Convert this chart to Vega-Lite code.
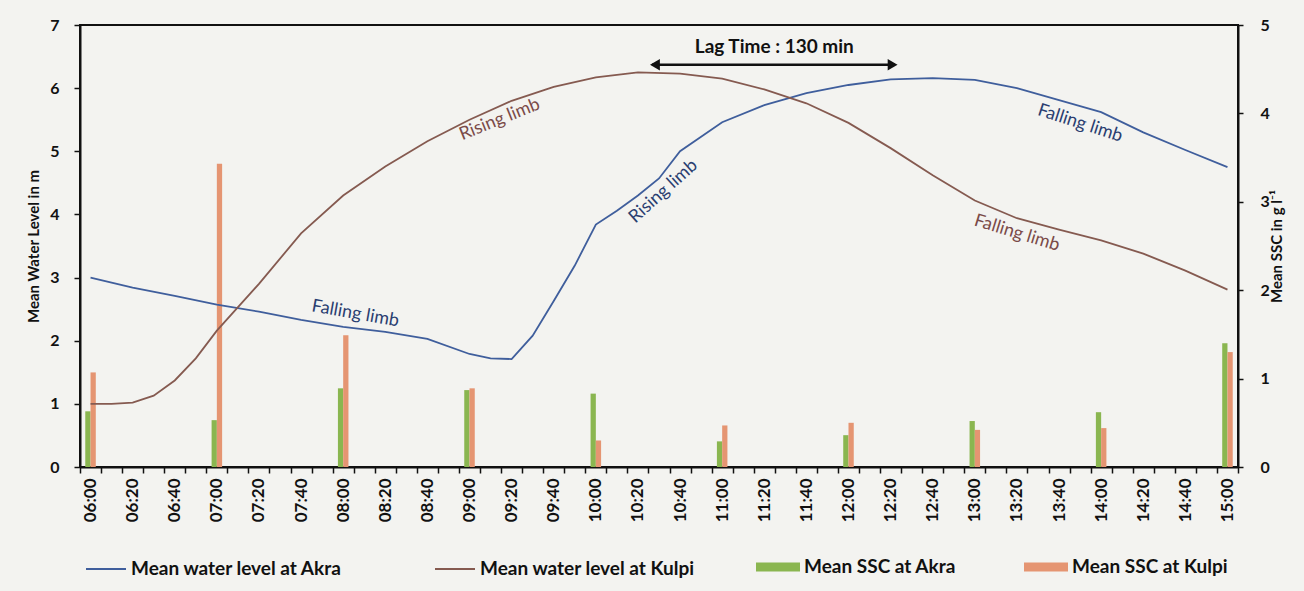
{
  "$schema": "https://vega.github.io/schema/vega-lite/v6.json",
  "width": 1158,
  "height": 442,
  "autosize": {"type": "none"},
  "padding": {"left": 80, "top": 25, "right": 66, "bottom": 124},
  "background": "#f3f3f0",
  "config": {
    "font": "Lato",
    "view": {"stroke": "#111111", "strokeWidth": 2},
    "axis": {
      "labelFont": "Lato", "labelFontWeight": "bold", "labelColor": "#111111",
      "titleFont": "Lato", "titleFontWeight": "bold", "titleColor": "#111111",
      "domainColor": "#111111", "domainWidth": 2, "tickColor": "#111111", "tickWidth": 1.5,
      "grid": false
    },
    "legend": {"labelFont": "Lato", "labelFontWeight": "bold", "labelColor": "#111111", "labelLimit": 400}
  },
  "layer": [
    {
      "data": {"values": [
        {"time": "06:00", "series": "Mean SSC at Akra", "ssc": 0.63},
        {"time": "06:00", "series": "Mean SSC at Kulpi", "ssc": 1.07},
        {"time": "07:00", "series": "Mean SSC at Akra", "ssc": 0.53},
        {"time": "07:00", "series": "Mean SSC at Kulpi", "ssc": 3.43},
        {"time": "08:00", "series": "Mean SSC at Akra", "ssc": 0.89},
        {"time": "08:00", "series": "Mean SSC at Kulpi", "ssc": 1.49},
        {"time": "09:00", "series": "Mean SSC at Akra", "ssc": 0.87},
        {"time": "09:00", "series": "Mean SSC at Kulpi", "ssc": 0.89},
        {"time": "10:00", "series": "Mean SSC at Akra", "ssc": 0.83},
        {"time": "10:00", "series": "Mean SSC at Kulpi", "ssc": 0.30},
        {"time": "11:00", "series": "Mean SSC at Akra", "ssc": 0.29},
        {"time": "11:00", "series": "Mean SSC at Kulpi", "ssc": 0.47},
        {"time": "12:00", "series": "Mean SSC at Akra", "ssc": 0.36},
        {"time": "12:00", "series": "Mean SSC at Kulpi", "ssc": 0.50},
        {"time": "13:00", "series": "Mean SSC at Akra", "ssc": 0.52},
        {"time": "13:00", "series": "Mean SSC at Kulpi", "ssc": 0.42},
        {"time": "14:00", "series": "Mean SSC at Akra", "ssc": 0.62},
        {"time": "14:00", "series": "Mean SSC at Kulpi", "ssc": 0.44},
        {"time": "15:00", "series": "Mean SSC at Akra", "ssc": 1.40},
        {"time": "15:00", "series": "Mean SSC at Kulpi", "ssc": 1.30}
      ]},
      "mark": {"type": "bar"},
      "encoding": {
        "x": {
          "field": "time", "type": "ordinal", "sort": null,
          "scale": {"type": "band", "paddingInner": 0, "paddingOuter": 0,
            "domain": ["06:00","06:10","06:20","06:30","06:40","06:50","07:00","07:10","07:20","07:30","07:40","07:50","08:00","08:10","08:20","08:30","08:40","08:50","09:00","09:10","09:20","09:30","09:40","09:50","10:00","10:10","10:20","10:30","10:40","10:50","11:00","11:10","11:20","11:30","11:40","11:50","12:00","12:10","12:20","12:30","12:40","12:50","13:00","13:10","13:20","13:30","13:40","13:50","14:00","14:10","14:20","14:30","14:40","14:50","15:00"]},
          "axis": {
            "title": null, "tickBand": "extent", "labelAngle": -90, "labelAlign": "right", "labelBaseline": "middle",
            "labelFontSize": 17, "labelPadding": 5, "tickSize": 6, "labelOverlap": false,
            "labelExpr": "indexof('135', slice(datum.label, 3, 4)) >= 0 ? '' : datum.label"
          }
        },
        "xOffset": {"field": "series", "type": "nominal", "scale": {"paddingInner": 0, "paddingOuter": 1.7}},
        "y": {
          "field": "ssc", "type": "quantitative",
          "scale": {"domain": [0, 5], "nice": false},
          "axis": {"orient": "right", "title": "Mean SSC in g l⁻¹", "values": [0,1,2,3,4,5],
            "labelFontSize": 16, "titleFontSize": 15, "tickSize": 5, "labelPadding": 17,
            "titleAngle": 270, "titleBaseline": "top", "titlePadding": 0}
        },
        "fill": {
          "field": "series", "type": "nominal",
          "scale": {"domain": ["Mean SSC at Akra", "Mean SSC at Kulpi"], "range": ["#8ab650", "#e59572"]},
          "legend": {"title": null, "orient": "none", "direction": "horizontal", "legendX": 676, "legendY": 520,
            "symbolType": "M-1,-0.2H1V0.2H-1Z", "symbolSize": 1936, "symbolStrokeWidth": 0,
            "labelFontSize": 19, "labelOffset": 4, "columnPadding": 68}
        }
      }
    },
    {
      "encoding": {
        "x": {"field": "time", "type": "ordinal", "sort": null, "scale": {"type": "band", "paddingInner": 0, "paddingOuter": 0}},
        "y": {
          "field": "level", "type": "quantitative",
          "scale": {"domain": [0, 7], "nice": false},
          "axis": {"orient": "left", "title": "Mean Water Level in m", "values": [0,1,2,3,4,5,6,7],
            "labelFontSize": 16, "titleFontSize": 15, "tickSize": 6, "labelPadding": 15, "titlePadding": 8}
        }
      },
      "layer": [
        {
          "data": {"values": [
            {"time": "06:00", "series": "Mean water level at Akra", "level": 3.00},
            {"time": "06:20", "series": "Mean water level at Akra", "level": 2.84},
            {"time": "06:40", "series": "Mean water level at Akra", "level": 2.71},
            {"time": "07:00", "series": "Mean water level at Akra", "level": 2.57},
            {"time": "07:20", "series": "Mean water level at Akra", "level": 2.46},
            {"time": "07:40", "series": "Mean water level at Akra", "level": 2.33},
            {"time": "08:00", "series": "Mean water level at Akra", "level": 2.22},
            {"time": "08:20", "series": "Mean water level at Akra", "level": 2.14},
            {"time": "08:40", "series": "Mean water level at Akra", "level": 2.03},
            {"time": "09:00", "series": "Mean water level at Akra", "level": 1.79},
            {"time": "09:10", "series": "Mean water level at Akra", "level": 1.72},
            {"time": "09:20", "series": "Mean water level at Akra", "level": 1.71},
            {"time": "09:30", "series": "Mean water level at Akra", "level": 2.08},
            {"time": "09:40", "series": "Mean water level at Akra", "level": 2.63},
            {"time": "09:50", "series": "Mean water level at Akra", "level": 3.19},
            {"time": "10:00", "series": "Mean water level at Akra", "level": 3.84},
            {"time": "10:10", "series": "Mean water level at Akra", "level": 4.06},
            {"time": "10:20", "series": "Mean water level at Akra", "level": 4.30},
            {"time": "10:30", "series": "Mean water level at Akra", "level": 4.57},
            {"time": "10:40", "series": "Mean water level at Akra", "level": 5.00},
            {"time": "11:00", "series": "Mean water level at Akra", "level": 5.46},
            {"time": "11:20", "series": "Mean water level at Akra", "level": 5.73},
            {"time": "11:40", "series": "Mean water level at Akra", "level": 5.92},
            {"time": "12:00", "series": "Mean water level at Akra", "level": 6.05},
            {"time": "12:20", "series": "Mean water level at Akra", "level": 6.14},
            {"time": "12:40", "series": "Mean water level at Akra", "level": 6.16},
            {"time": "13:00", "series": "Mean water level at Akra", "level": 6.13},
            {"time": "13:20", "series": "Mean water level at Akra", "level": 6.00},
            {"time": "13:40", "series": "Mean water level at Akra", "level": 5.81},
            {"time": "14:00", "series": "Mean water level at Akra", "level": 5.62},
            {"time": "14:20", "series": "Mean water level at Akra", "level": 5.30},
            {"time": "14:40", "series": "Mean water level at Akra", "level": 5.02},
            {"time": "15:00", "series": "Mean water level at Akra", "level": 4.75},
            {"time": "06:00", "series": "Mean water level at Kulpi", "level": 1.00},
            {"time": "06:10", "series": "Mean water level at Kulpi", "level": 1.00},
            {"time": "06:20", "series": "Mean water level at Kulpi", "level": 1.02},
            {"time": "06:30", "series": "Mean water level at Kulpi", "level": 1.13},
            {"time": "06:40", "series": "Mean water level at Kulpi", "level": 1.37},
            {"time": "06:50", "series": "Mean water level at Kulpi", "level": 1.72},
            {"time": "07:00", "series": "Mean water level at Kulpi", "level": 2.16},
            {"time": "07:20", "series": "Mean water level at Kulpi", "level": 2.90},
            {"time": "07:40", "series": "Mean water level at Kulpi", "level": 3.70},
            {"time": "08:00", "series": "Mean water level at Kulpi", "level": 4.30},
            {"time": "08:20", "series": "Mean water level at Kulpi", "level": 4.76},
            {"time": "08:40", "series": "Mean water level at Kulpi", "level": 5.16},
            {"time": "09:00", "series": "Mean water level at Kulpi", "level": 5.50},
            {"time": "09:20", "series": "Mean water level at Kulpi", "level": 5.80},
            {"time": "09:40", "series": "Mean water level at Kulpi", "level": 6.02},
            {"time": "10:00", "series": "Mean water level at Kulpi", "level": 6.17},
            {"time": "10:20", "series": "Mean water level at Kulpi", "level": 6.25},
            {"time": "10:40", "series": "Mean water level at Kulpi", "level": 6.23},
            {"time": "11:00", "series": "Mean water level at Kulpi", "level": 6.15},
            {"time": "11:20", "series": "Mean water level at Kulpi", "level": 5.98},
            {"time": "11:40", "series": "Mean water level at Kulpi", "level": 5.76},
            {"time": "12:00", "series": "Mean water level at Kulpi", "level": 5.45},
            {"time": "12:20", "series": "Mean water level at Kulpi", "level": 5.05},
            {"time": "12:40", "series": "Mean water level at Kulpi", "level": 4.62},
            {"time": "13:00", "series": "Mean water level at Kulpi", "level": 4.22},
            {"time": "13:20", "series": "Mean water level at Kulpi", "level": 3.94},
            {"time": "13:40", "series": "Mean water level at Kulpi", "level": 3.76},
            {"time": "14:00", "series": "Mean water level at Kulpi", "level": 3.59},
            {"time": "14:20", "series": "Mean water level at Kulpi", "level": 3.38},
            {"time": "14:40", "series": "Mean water level at Kulpi", "level": 3.11},
            {"time": "15:00", "series": "Mean water level at Kulpi", "level": 2.81}
          ]},
          "mark": {"type": "line", "strokeWidth": 1.8},
          "encoding": {
            "stroke": {
              "field": "series", "type": "nominal",
              "scale": {"domain": ["Mean water level at Akra", "Mean water level at Kulpi"], "range": ["#3f5e9c", "#855a50"]},
              "legend": {"title": null, "orient": "none", "direction": "horizontal", "legendX": 5, "legendY": 523,
                "symbolType": "stroke", "symbolSize": 1600, "symbolStrokeWidth": 2,
                "labelFontSize": 19, "labelOffset": 4, "columnPadding": 88}
            }
          }
        },
        {
          "data": {"values": [{"time": "09:10", "level": 5.44, "label": "Rising limb"}]},
          "mark": {"type": "text", "angle": -22, "fontSize": 18, "color": "#7a4a48", "dx": 10},
          "encoding": {"text": {"field": "label"}}
        },
        {
          "data": {"values": [{"time": "08:10", "level": 2.40, "label": "Falling limb"}]},
          "mark": {"type": "text", "angle": 10, "fontSize": 18, "color": "#2a3e70", "dx": -9},
          "encoding": {"text": {"field": "label"}}
        },
        {
          "data": {"values": [{"time": "10:30", "level": 4.30, "label": "Rising limb"}]},
          "mark": {"type": "text", "angle": -42, "fontSize": 18, "color": "#2a3e70", "dx": 6},
          "encoding": {"text": {"field": "label"}}
        },
        {
          "data": {"values": [{"time": "13:50", "level": 5.44, "label": "Falling limb"}]},
          "mark": {"type": "text", "angle": 18, "fontSize": 18, "color": "#2a3e70"},
          "encoding": {"text": {"field": "label"}}
        },
        {
          "data": {"values": [{"time": "13:20", "level": 3.70, "label": "Falling limb"}]},
          "mark": {"type": "text", "angle": 17, "fontSize": 18, "color": "#7a4a48"},
          "encoding": {"text": {"field": "label"}}
        },
        {
          "data": {"values": [{"time": "11:20", "level": 6.65, "label": "Lag Time : 130 min"}]},
          "mark": {"type": "text", "fontSize": 19, "fontWeight": "bold", "color": "#111111", "dx": 10},
          "encoding": {"text": {"field": "label"}}
        },
        {
          "data": {"values": [{"time": "10:20", "time2": "12:20", "level": 6.37}]},
          "mark": {"type": "rule", "strokeWidth": 2.5, "color": "#111111", "xOffset": 14, "x2Offset": 4},
          "encoding": {"x2": {"field": "time2"}}
        },
        {
          "data": {"values": [{"time": "10:20", "level": 6.37}]},
          "mark": {"type": "point", "shape": "triangle-left", "filled": true, "size": 130, "color": "#111111", "opacity": 1, "xOffset": 17},
          "encoding": {}
        },
        {
          "data": {"values": [{"time": "12:20", "level": 6.37}]},
          "mark": {"type": "point", "shape": "triangle-right", "filled": true, "size": 130, "color": "#111111", "opacity": 1, "xOffset": 2},
          "encoding": {}
        }
      ]
    }
  ],
  "resolve": {"scale": {"y": "independent"}}
}
